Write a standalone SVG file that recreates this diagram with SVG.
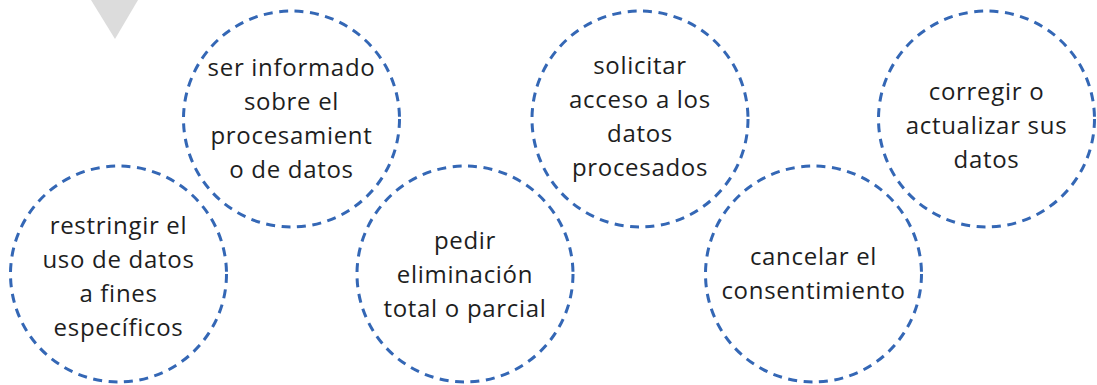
<svg xmlns="http://www.w3.org/2000/svg" width="1097" height="385" viewBox="0 0 1097 385">
<style>
.c{fill:none;stroke:#3467b5;stroke-width:3;stroke-dasharray:9 6.5}
.t{font-family:"Open Sans","Liberation Sans",sans-serif;font-size:24px;fill:#1e1e1e;text-anchor:middle;letter-spacing:0.7px}
</style>
<rect width="1097" height="385" fill="#fff"/>
<polygon points="91,0 138,0 115,39" fill="#dcdcdc"/>
<g id="n1"><circle class="c" cx="118.5" cy="274" r="108"/>
<text class="t" x="118.5" y="234">restringir el</text><text class="t" x="118.5" y="268">uso de datos</text><text class="t" x="118.5" y="302">a fines</text><text class="t" x="118.5" y="336">específicos</text></g>
<g id="n2"><circle class="c" cx="291.5" cy="119" r="108"/>
<text class="t" x="291.5" y="76">ser informado</text><text class="t" x="291.5" y="110">sobre el</text><text class="t" x="291.5" y="144">procesamient</text><text class="t" x="291.5" y="178">o de datos</text></g>
<g id="n3"><circle class="c" cx="465" cy="274" r="108"/>
<text class="t" x="465" y="249">pedir</text><text class="t" x="465" y="283">eliminación</text><text class="t" x="465" y="317">total o parcial</text></g>
<g id="n4"><circle class="c" cx="640" cy="119" r="108"/>
<text class="t" x="640" y="74">solicitar</text><text class="t" x="640" y="108">acceso a los</text><text class="t" x="640" y="142">datos</text><text class="t" x="640" y="176">procesados</text></g>
<g id="n5"><circle class="c" cx="813.5" cy="274" r="108"/>
<text class="t" x="813.5" y="265">cancelar el</text><text class="t" x="813.5" y="299">consentimiento</text></g>
<g id="n6"><circle class="c" cx="986.5" cy="119" r="108"/>
<text class="t" x="986.5" y="100">corregir o</text><text class="t" x="986.5" y="134">actualizar sus</text><text class="t" x="986.5" y="168">datos</text></g>
<g id="connectors"></g>
</svg>
